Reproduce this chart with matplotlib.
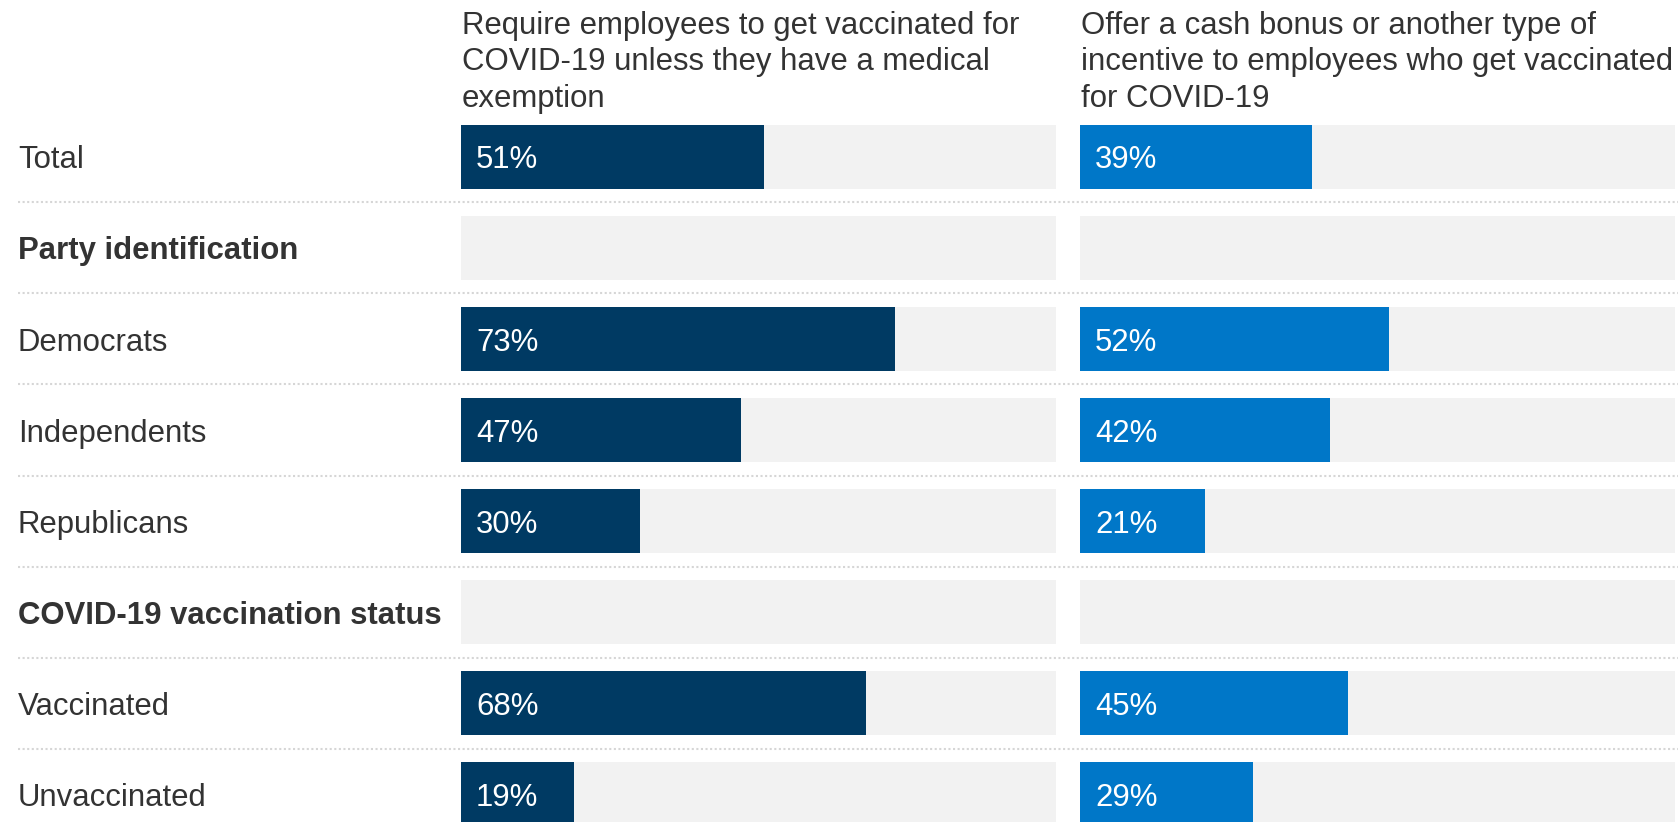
import matplotlib
matplotlib.use("Agg")
import matplotlib.pyplot as plt

# ---------------- data ----------------
rows = ["Total", "Party identification", "Democrats", "Independents", "Republicans",
        "COVID-19 vaccination status", "Vaccinated", "Unvaccinated"]
is_header = [False, True, False, False, False, True, False, False]
require_vals = [51, None, 73, 47, 30, None, 68, 19]
incentive_vals = [39, None, 52, 42, 21, None, 45, 29]
titles = ["Require employees to get vaccinated for\nCOVID-19 unless they have a medical\nexemption",
          "Offer a cash bonus or another type of\nincentive to employees who get vaccinated\nfor COVID-19"]
series = [require_vals, incentive_vals]
colors = ["#003a63", "#0077c8"]

# ---------------- layout (pixels) ----------------
W, H, DPI = 1678, 822, 100
FONT = "Liberation Sans"
FS = 22.4
TXT = "#333333"
BG = "#f2f2f2"

row0_c = 157          # center of first row (px from top)
pitch = 91            # row pitch (px)
bar_h = 64 / pitch    # bar height in row units
top_px = row0_c - pitch * 0.5
y_bottom = (H - row0_c) / pitch
ax_h = (H - top_px) / H
panel_x = [461, 1080]
panel_w = 595

fig = plt.figure(figsize=(W / DPI, H / DPI), dpi=DPI)
fig.patch.set_facecolor("white")

# background axes for labels and separators
bg = fig.add_axes([0, 0, 1, ax_h])
bg.set_xlim(0, W)
bg.set_ylim(y_bottom, -0.5)
bg.axis("off")
for i in range(len(rows) - 1):
    bg.plot([18, W], [i + 0.5, i + 0.5], color="#d6d6d6", lw=1.5,
            linestyle=(0, (1, 1.2)), solid_capstyle="butt")
for i, (lab, hd) in enumerate(zip(rows, is_header)):
    bg.text(18, i, lab, fontsize=FS, family=FONT, color=TXT,
            fontweight="bold" if hd else "normal", va="center_baseline", ha="left")

# panels
for k in range(2):
    ax = fig.add_axes([panel_x[k] / W, 0, panel_w / W, ax_h])
    ax.set_xlim(0, 100)
    ax.set_ylim(y_bottom, -0.5)
    ax.axis("off")
    ys = list(range(len(rows)))
    ax.barh(ys, [100] * len(rows), height=bar_h, color=BG, linewidth=0)
    vy = [i for i, v in enumerate(series[k]) if v is not None]
    vv = [v for v in series[k] if v is not None]
    ax.barh(vy, vv, height=bar_h, color=colors[k], linewidth=0)
    for y, v in zip(vy, vv):
        ax.annotate(f"{v}%", xy=(0, y), xytext=(15 * 72 / DPI, 0), textcoords="offset points",
                    fontsize=FS, family=FONT, color="white", va="center_baseline", ha="left")
    fig.text((panel_x[k] + 1) / W, 1 - 11 / H, titles[k], fontsize=FS, family=FONT,
             color=TXT, va="top", ha="left", linespacing=1.28)

fig.savefig("out.png", dpi=DPI, facecolor="white")
